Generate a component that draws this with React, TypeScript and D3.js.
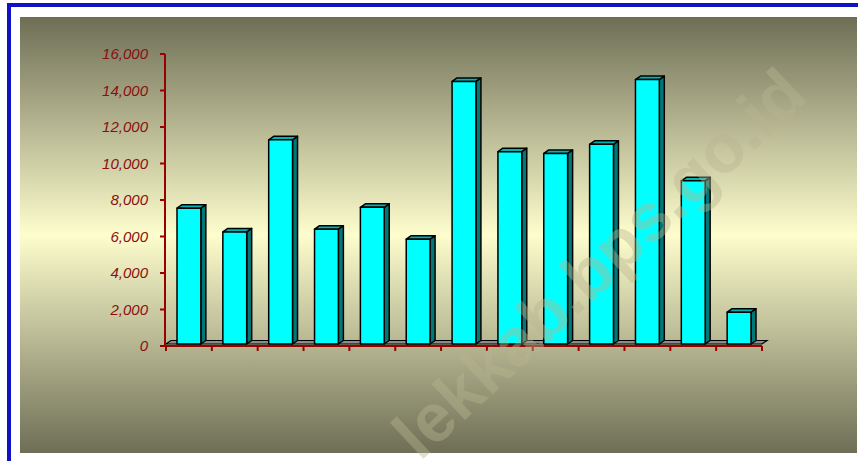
import React from "react";
import * as d3 from "d3";

const categories = ["1","2","3","4","5","6","7","8","9","10","11","12","13"];
const values = [7550, 6250, 11300, 6400, 7600, 5850, 14500, 10650, 10550, 11050, 14600, 9050, 1850];
const yTicks = [0, 2000, 4000, 6000, 8000, 10000, 12000, 14000, 16000];
const watermark = "lekkab.bps.go.id";

const W = 858, H = 461;
const DX = 5, DY = 3.5;

export default function App() {
  const x = d3.scaleBand<string>().domain(categories).range([166, 762]).paddingInner(0.48).paddingOuter(0.24);
  const y = d3.scaleLinear().domain([0, 16000]).range([346, 54]);
  const step = (762 - 166) / categories.length;
  const fmt = d3.format(",");
  const base = y(0) - 2;
  const axisColor = "#990000";

  return (
    <svg width={W} height={H} style={{ position: "fixed", left: 0, top: 0 }} xmlns="http://www.w3.org/2000/svg">
      <defs>
        <linearGradient id="bg" x1="0" y1="0" x2="0" y2="1">
          <stop offset="0" stopColor="#6e6e56" />
          <stop offset="0.5" stopColor="#fdfdcd" />
          <stop offset="1" stopColor="#6e6e56" />
        </linearGradient>
      </defs>
      <rect x={0} y={0} width={W} height={H} fill="#ffffff" />
      <rect x={9} y={5} width={900} height={500} fill="none" stroke="#1010c4" strokeWidth={4} />
      <rect x={20} y={17} width={837} height={436} fill="url(#bg)" />

      {/* floor */}
      <path
        d={`M166,${base}L762,${base}L${762 + DX},${base - DY}L${166 + DX},${base - DY}Z`}
        fill="#8c8c8c" stroke="#000" strokeWidth={1.2}
      />

      {/* bars */}
      {values.map((v, i) => {
        const x0 = x(categories[i])!;
        const w = x.bandwidth();
        const top = y(v);
        return (
          <g key={i} stroke="#000" strokeWidth={1.5} strokeLinejoin="round">
            <path d={`M${x0 + w},${top}L${x0 + w + DX},${top - DY}L${x0 + w + DX},${base - DY}L${x0 + w},${base}Z`} fill="#007878" />
            <path d={`M${x0},${top}L${x0 + DX},${top - DY}L${x0 + w + DX},${top - DY}L${x0 + w},${top}Z`} fill="#00b4b4" />
            <rect x={x0} y={top} width={w} height={base - top} fill="#00ffff" />
          </g>
        );
      })}

      {/* y axis */}
      <line x1={165} x2={165} y1={y(16000)} y2={y(0)} stroke={axisColor} strokeWidth={2} />
      {yTicks.map((t) => (
        <g key={t}>
          <line x1={160} x2={165} y1={y(t)} y2={y(t)} stroke={axisColor} strokeWidth={2} />
          <text x={148} y={y(t)} dy="0.36em" textAnchor="end" fill="#8b0f0f"
            fontFamily="'Liberation Sans', Arial, sans-serif" fontStyle="italic" fontSize={15}>
            {fmt(t)}
          </text>
        </g>
      ))}

      {/* x axis */}
      <line x1={165} x2={762} y1={y(0)} y2={y(0)} stroke={axisColor} strokeWidth={2} />
      {d3.range(categories.length + 1).map((i) => (
        <line key={i} x1={166 + i * step} x2={166 + i * step} y1={y(0)} y2={y(0) + 5} stroke={axisColor} strokeWidth={2} />
      ))}

      {/* watermark */}
      <text
        transform="translate(420,462) rotate(-43)"
        fill="#b8b490" fillOpacity={0.42}
        fontFamily="'Liberation Sans', Arial, sans-serif" fontWeight="bold" fontSize={68}
      >
        {watermark}
      </text>
    </svg>
  );
}
